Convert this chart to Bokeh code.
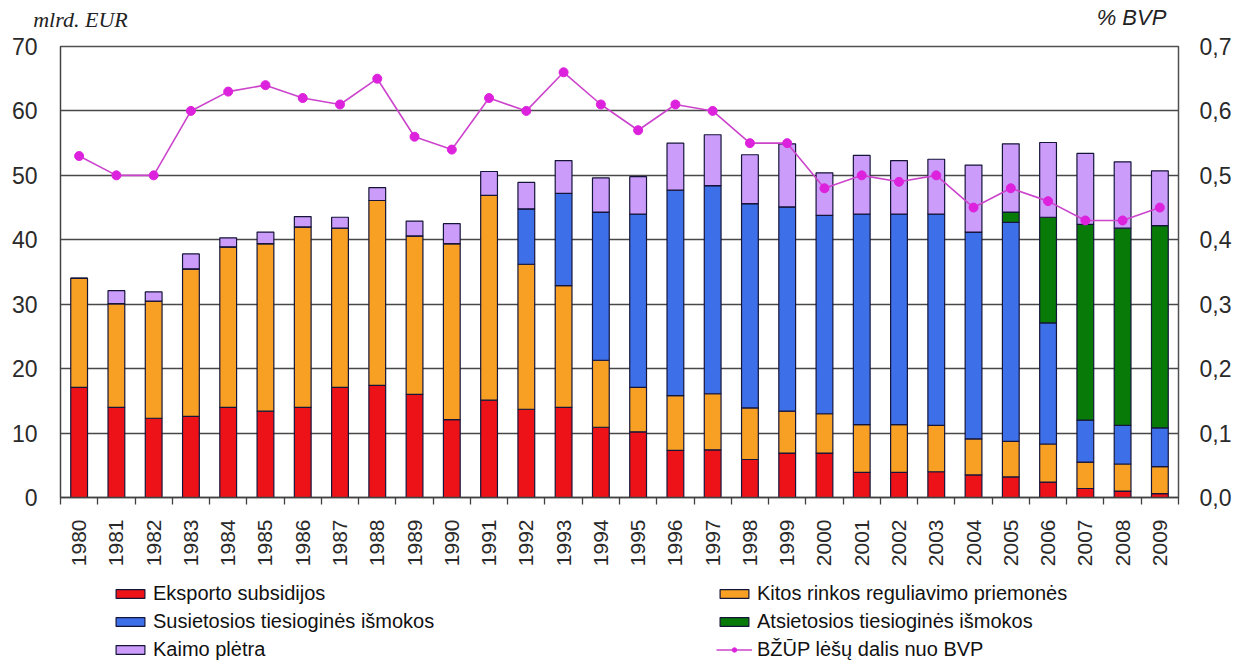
import math
from bokeh.plotting import figure
from bokeh.layouts import column
from bokeh.models import (Range1d, LinearAxis, FixedTicker, ColumnDataSource, Legend,
                          LegendItem, CustomJSTickFormatter)
from bokeh.embed import file_html
from bokeh.resources import INLINE

years = ["1980", "1981", "1982", "1983", "1984", "1985", "1986", "1987", "1988", "1989",
         "1990", "1991", "1992", "1993", "1994", "1995", "1996", "1997", "1998", "1999",
         "2000", "2001", "2002", "2003", "2004", "2005", "2006", "2007", "2008", "2009"]

eksporto = [17.1, 14.0, 12.3, 12.6, 14.0, 13.4, 14.0, 17.1, 17.4, 16.0,
            12.1, 15.1, 13.7, 14.0, 10.9, 10.2, 7.3, 7.4, 5.9, 6.9,
            6.9, 3.9, 3.9, 4.0, 3.5, 3.2, 2.4, 1.4, 1.0, 0.6]
kitos = [16.9, 16.1, 18.2, 22.9, 24.9, 26.0, 28.0, 24.7, 28.7, 24.6,
         27.3, 31.8, 22.5, 18.9, 10.4, 6.9, 8.5, 8.7, 8.0, 6.5,
         6.1, 7.4, 7.4, 7.2, 5.6, 5.5, 5.9, 4.1, 4.2, 4.2]
susietosios = [0, 0, 0, 0, 0, 0, 0, 0, 0, 0,
               0, 0, 8.6, 14.3, 23.0, 26.9, 31.9, 32.3, 31.7, 31.7,
               30.8, 32.7, 32.7, 32.8, 32.1, 34.0, 18.8, 6.5, 6.0, 6.0]
atsietosios = [0, 0, 0, 0, 0, 0, 0, 0, 0, 0,
               0, 0, 0, 0, 0, 0, 0, 0, 0, 0,
               0, 0, 0, 0, 0, 1.6, 16.4, 30.4, 30.6, 31.4]
kaimo = [0.0, 2.0, 1.4, 2.3, 1.4, 1.8, 1.6, 1.7, 2.0, 2.3,
         3.1, 3.7, 4.1, 5.1, 5.3, 5.8, 7.3, 7.9, 7.6, 9.8,
         6.6, 9.1, 8.3, 8.5, 10.4, 10.6, 11.6, 11.0, 10.3, 8.5]
bvp_share = [0.53, 0.50, 0.50, 0.60, 0.63, 0.64, 0.62, 0.61, 0.65, 0.56,
             0.54, 0.62, 0.60, 0.66, 0.61, 0.57, 0.61, 0.60, 0.55, 0.55,
             0.48, 0.50, 0.49, 0.50, 0.45, 0.48, 0.46, 0.43, 0.43, 0.45]

left_ticks = [0, 10, 20, 30, 40, 50, 60, 70]
right_ticks = [0.0, 0.1, 0.2, 0.3, 0.4, 0.5, 0.6, 0.7]

series = ["eksporto", "kitos", "susietosios", "atsietosios", "kaimo"]
colors = ["#ec1218", "#f8a023", "#3d6fe8", "#077a07", "#cc9cfb"]
labels = ["Eksporto subsidijos", "Kitos rinkos reguliavimo priemonės",
          "Susietosios tiesioginės išmokos", "Atsietosios tiesioginės išmokos",
          "Kaimo plėtra"]
line_label = "BŽŪP lėšų dalis nuo BVP"
left_unit = "mlrd. EUR"
right_unit = "% BVP"

LINE_COLOR = "#cc44cc"
DOT_COLOR = "#dd22dd"
BAR_EDGE = "#15153a"

xs = list(range(len(years)))
src = ColumnDataSource(dict(x=xs, eksporto=eksporto, kitos=kitos, susietosios=susietosios,
                            atsietosios=atsietosios, kaimo=kaimo, bvp=bvp_share))

FL, FR = 60, 1178  # frame edges in pixels

# ---------- main chart ----------
p = figure(frame_width=FR - FL, frame_height=451, output_backend="svg", toolbar_location=None,
           x_range=Range1d(-0.5, len(years) - 0.5), y_range=Range1d(0, 70),
           min_border_left=FL, min_border_right=62, min_border_top=46, min_border_bottom=70)
p.background_fill_color = "white"
p.border_fill_color = "white"
p.outline_line_color = "#505050"
p.outline_line_width = 1.5

p.extra_y_ranges = {"pct": Range1d(0, 0.7)}
p.extra_x_ranges = {"cap": Range1d(FL, FR)}

bars = p.vbar_stack(series, x="x", width=0.45, source=src, color=colors,
                    line_color=BAR_EDGE, line_width=1.2)

line = p.line("x", "bvp", source=src, y_range_name="pct", line_color=LINE_COLOR, line_width=1.6)
dots = p.scatter("x", "bvp", source=src, y_range_name="pct", size=9,
                 fill_color=DOT_COLOR, line_color=DOT_COLOR)

p.xgrid.visible = False
p.ygrid.ticker = FixedTicker(ticks=left_ticks)
p.ygrid.grid_line_color = "#484848"
p.ygrid.grid_line_width = 1.3

ya = p.yaxis[0]
ya.ticker = FixedTicker(ticks=left_ticks)
ya.axis_line_color = "#404040"
ya.major_tick_line_color = None
ya.minor_tick_line_color = None
ya.major_tick_out = 0
ya.major_label_text_font = "Liberation Sans"
ya.major_label_text_font_size = "23px"
ya.major_label_text_color = "#2a2a2a"
ya.major_label_standoff = 23

xa = p.xaxis[0]
xa.ticker = FixedTicker(ticks=xs, minor_ticks=[i - 0.5 for i in range(len(years) + 1)])
xa.major_label_overrides = {i: y for i, y in enumerate(years)}
xa.major_label_orientation = math.pi / 2
xa.major_tick_line_color = None
xa.major_tick_out = 6
xa.major_tick_in = 0
xa.minor_tick_out = 7
xa.minor_tick_in = 0
xa.minor_tick_line_color = "#404040"
xa.minor_tick_line_width = 1.3
xa.axis_line_color = "#404040"
xa.axis_line_width = 1.3
xa.major_label_text_font = "Liberation Sans"
xa.major_label_text_font_size = "21px"
xa.major_label_text_color = "#2a2a2a"
xa.major_label_standoff = 15

ra = LinearAxis(y_range_name="pct", ticker=FixedTicker(ticks=right_ticks),
                formatter=CustomJSTickFormatter(code="return tick.toFixed(1).replace('.', ',');"))
ra.axis_line_color = None
ra.major_tick_line_color = None
ra.minor_tick_line_color = None
ra.major_tick_out = 0
ra.major_label_text_font = "Liberation Sans"
ra.major_label_text_font_size = "23px"
ra.major_label_text_color = "#2a2a2a"
ra.major_label_standoff = 21
p.add_layout(ra, "right")

# unit captions above the frame (as tick labels of caption axes)
def caption_axis(pos, text, font, standoff):
    ax = LinearAxis(x_range_name="cap", ticker=FixedTicker(ticks=[pos], minor_ticks=[]),
                    major_label_overrides={pos: text})
    ax.axis_line_color = None
    ax.major_tick_line_color = None
    ax.minor_tick_line_color = None
    ax.major_tick_out = 0
    ax.major_tick_in = 0
    ax.major_label_text_font = font
    ax.major_label_text_font_style = "italic"
    ax.major_label_text_font_size = "22px"
    ax.major_label_text_color = "#222222"
    ax.major_label_standoff = standoff
    return ax

p.add_layout(caption_axis(1131, right_unit, "Liberation Sans", 17), "above")
p.add_layout(caption_axis(80, left_unit, "Liberation Serif", -30), "above")

# ---------- legend strip ----------
leg = figure(frame_width=FR - FL, frame_height=96, output_backend="svg", toolbar_location=None,
             x_range=Range1d(FL, FR), y_range=Range1d(0, 96),
             x_axis_type=None, y_axis_type=None,
             min_border_left=FL, min_border_right=62, min_border_top=0, min_border_bottom=0)
leg.outline_line_color = None
leg.background_fill_color = "white"
leg.border_fill_color = "white"

# legend proxies: one sample each, placed outside the visible strip
proxy = [leg.vbar(x=[-100], top=[-100], bottom=[-101], width=1, fill_color=c,
                  line_color=BAR_EDGE, line_width=1.2) for c in colors]
proxy_line = leg.line(x=[-100, -99], y=[-100, -100], line_color=LINE_COLOR, line_width=1.6)
proxy_dot = leg.scatter(x=[-100], y=[-100], size=9, fill_color=DOT_COLOR, line_color=DOT_COLOR)

def make_legend(items, x):
    return Legend(items=items, location=(x, 4), orientation="vertical",
                  padding=0, margin=0, border_line_alpha=0, background_fill_alpha=0,
                  label_text_font="Liberation Sans", label_text_font_size="20px",
                  label_text_color="#111111", glyph_width=36, glyph_height=11,
                  label_standoff=5, spacing=5, label_height=22)

leg.add_layout(make_legend([LegendItem(label=labels[0], renderers=[proxy[0]]),
                            LegendItem(label=labels[2], renderers=[proxy[2]]),
                            LegendItem(label=labels[4], renderers=[proxy[4]])], 52))
leg.add_layout(make_legend([LegendItem(label=labels[1], renderers=[proxy[1]]),
                            LegendItem(label=labels[3], renderers=[proxy[3]]),
                            LegendItem(label=line_label, renderers=[proxy_line, proxy_dot])], 656))

layout = column(p, leg, spacing=0)
open("out.html", "w").write(file_html(layout, INLINE))
